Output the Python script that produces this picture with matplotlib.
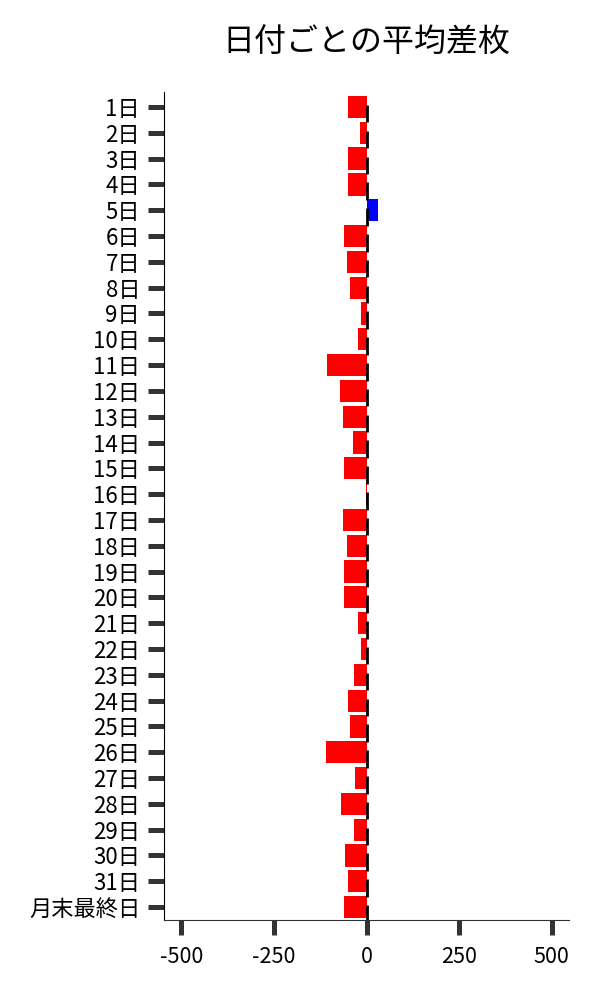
import matplotlib
matplotlib.use('Agg')
import matplotlib.pyplot as plt

plt.rcParams['font.family'] = ['Noto Sans CJK JP', 'DejaVu Sans']

# 日付ラベルと平均差枚
days = [f'{i}日' for i in range(1, 32)] + ['月末最終日']
values = [-50, -19, -49, -49, 32, -60, -52, -46, -16, -22,
          -106, -73, -65, -38, -62, -2, -65, -54, -62, -62,
          -24, -16, -33, -49, -46, -109, -30, -68, -33, -57,
          -49, -60]

colors = ['#0000ff' if v > 0 else '#ff0000' for v in values]
pos = list(range(len(days)))

fig = plt.figure(figsize=(6, 10), dpi=100)
ax = fig.add_axes([0.274, 0.08, 0.674, 0.828])

ax.barh(pos, values, height=0.86, color=colors)
# ゼロ位置の黒い短線
ax.vlines([0] * len(pos), [p - 0.08 for p in pos], [p + 0.6 for p in pos],
          color='black', linewidth=2)

ax.set_xlim(-546, 546)
ax.set_ylim(len(days) - 0.5, -0.58)
ax.set_yticks(pos)
ax.set_yticklabels(days, fontsize=16)
ax.set_xticks([-500, -250, 0, 250, 500])
ax.set_xticklabels(['-500', '-250', '0', '250', '500'], fontsize=15.5)

ax.tick_params(axis='y', length=11.5, width=3.6, color='#333333', pad=6)
ax.tick_params(axis='x', length=11, width=3.6, color='#333333', pad=8)

ax.spines['top'].set_visible(False)
ax.spines['right'].set_visible(False)
ax.spines['left'].set_color('black')
ax.spines['bottom'].set_color('#333333')

fig.text(0.61, 0.957, '日付ごとの平均差枚', fontsize=23, ha='center', va='center')

fig.savefig('out.png', dpi=100)
